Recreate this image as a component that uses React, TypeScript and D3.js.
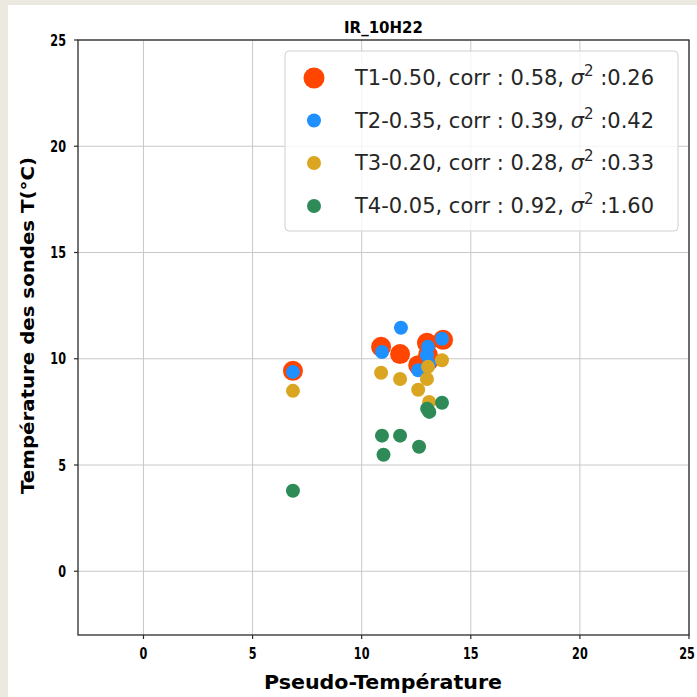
import React from "react";
import * as d3 from "d3";

const W = 697;
const H = 697;

const titleText = "IR_10H22";
const xLabel = "Pseudo-Température";
const yLabel = "Température des sondes T(°C)";
const xTicks = [0, 5, 10, 15, 20, 25];
const yTicks = [0, 5, 10, 15, 20, 25];

const seriesLabels = [
  "T1-0.50, corr : 0.58, ",
  "T2-0.35, corr : 0.39, ",
  "T3-0.20, corr : 0.28, ",
  "T4-0.05, corr : 0.92, ",
];
const seriesSigma = [":0.26", ":0.42", ":0.33", ":1.60"];
const seriesColors = ["#FF4500", "#1E90FF", "#DAA520", "#2E8B57"];
const seriesRadius = [10, 7, 7, 7];

const t1X = [6.85, 10.89, 11.76, 12.99, 13.73, 12.59, 13.04, 13.09];
const t1Y = [9.43, 10.56, 10.22, 10.75, 10.89, 9.7, 10.17, 9.93];
const t2X = [6.85, 11.8, 10.93, 13.04, 12.99, 13.68, 12.59, 13.09];
const t2Y = [9.38, 11.46, 10.32, 10.56, 10.17, 10.94, 9.46, 9.74];
const t3X = [6.85, 10.89, 11.76, 12.59, 13.04, 12.99, 13.09, 13.68];
const t3Y = [8.49, 9.34, 9.05, 8.54, 9.62, 9.05, 7.97, 9.93];
const t4X = [6.85, 10.93, 11.76, 11.0, 12.63, 13.0, 13.1, 13.68];
const t4Y = [3.79, 6.38, 6.38, 5.48, 5.86, 7.65, 7.5, 7.93];

const seriesX = [t1X, t2X, t3X, t4X];
const seriesY = [t1Y, t2Y, t3Y, t4Y];

export default function App() {
  const left = 78, right = 689, top = 40, bottom = 635;
  const x = d3.scaleLinear().domain([-3, 25]).range([left, right]);
  const y = d3.scaleLinear().domain([-3, 25]).range([bottom, top]);
  const tickFont = "DejaVu Sans, sans-serif";
  const legX = 285, legY = 51, legW = 393, legH = 180;
  const rowY = [78, 120.5, 163, 206];

  return (
    <div style={{ position: "absolute", left: 0, top: 0, width: W, height: H }}>
      <svg width={W} height={H} style={{ display: "block" }}>
        <rect x={0} y={0} width={W} height={H} fill="#ECEAE0" />
        <rect x={8} y={5} width={W - 8} height={H - 5} fill="#FFFFFF" />
        {/* grid */}
        {xTicks.map((t) => (
          <line key={"gx" + t} x1={x(t)} x2={x(t)} y1={top} y2={bottom} stroke="#c8c8c8" strokeWidth={1} />
        ))}
        {yTicks.map((t) => (
          <line key={"gy" + t} x1={left} x2={right} y1={y(t)} y2={y(t)} stroke="#c8c8c8" strokeWidth={1} />
        ))}
        {/* points */}
        {seriesX.map((xs, si) =>
          xs.map((v, i) => (
            <circle key={`p${si}-${i}`} cx={x(v)} cy={y(seriesY[si][i])} r={seriesRadius[si]} fill={seriesColors[si]} />
          ))
        )}
        {/* spines */}
        <rect x={left} y={top} width={right - left} height={bottom - top} fill="none" stroke="#2b2b2b" strokeWidth={1.3} />
        {/* ticks */}
        {xTicks.map((t, i) => {
          const tx = x(t) - (i === xTicks.length - 1 ? 2 : 0);
          return (
            <g key={"tx" + t}>
              <line x1={x(t)} x2={x(t)} y1={bottom} y2={bottom + 4} stroke="#2b2b2b" strokeWidth={1.2} />
              <text transform={`translate(${tx}, 659) scale(0.75, 1)`} textAnchor="middle" fontFamily={tickFont}
                fontWeight="bold" fontSize={15} fill="#000">
                {t}
              </text>
            </g>
          );
        })}
        {yTicks.map((t) => (
          <g key={"ty" + t}>
            <line x1={left - 4} x2={left} y1={y(t)} y2={y(t)} stroke="#2b2b2b" strokeWidth={1.2} />
            <text transform={`translate(66, ${y(t) + 5.5}) scale(0.75, 1)`} textAnchor="end" fontFamily={tickFont}
              fontWeight="bold" fontSize={15} fill="#000">
              {t}
            </text>
          </g>
        ))}
        {/* title */}
        <text x={(left + right) / 2} y={33} textAnchor="middle" fontFamily={tickFont} fontWeight="bold" fontSize={15} fill="#000">
          {titleText}
        </text>
        {/* x label */}
        <text x={383} y={689} textAnchor="middle" fontFamily={tickFont} fontSize={20} fontWeight="bold" fill="#000"
          textLength={238} lengthAdjust="spacingAndGlyphs">
          {xLabel}
        </text>
        {/* y label */}
        <text transform={`translate(34, ${(top + bottom) / 2 - 12}) rotate(-90)`} textAnchor="middle" fontFamily={tickFont}
          fontSize={17} fontWeight="bold" fill="#000" textLength={337} lengthAdjust="spacingAndGlyphs">
          {yLabel}
        </text>
        {/* legend */}
        <rect x={legX} y={legY} width={legW} height={legH} rx={4} ry={4} fill="#ffffff" fillOpacity={0.8} stroke="#d0d0d0" strokeWidth={1} />
        {seriesLabels.map((lab, i) => (
          <g key={"leg" + i}>
            <circle cx={314} cy={rowY[i]} r={i === 0 ? 10.5 : 7} fill={seriesColors[i]} />
            <text x={355} y={rowY[i] + 7} fontFamily={tickFont} fontSize={21} fill="#262626">
              {lab}
              <tspan fontStyle="italic">σ</tspan>
              <tspan dy={-9} fontSize={15}>2</tspan>
              <tspan dy={9}> {seriesSigma[i]}</tspan>
            </text>
          </g>
        ))}
      </svg>
    </div>
  );
}
